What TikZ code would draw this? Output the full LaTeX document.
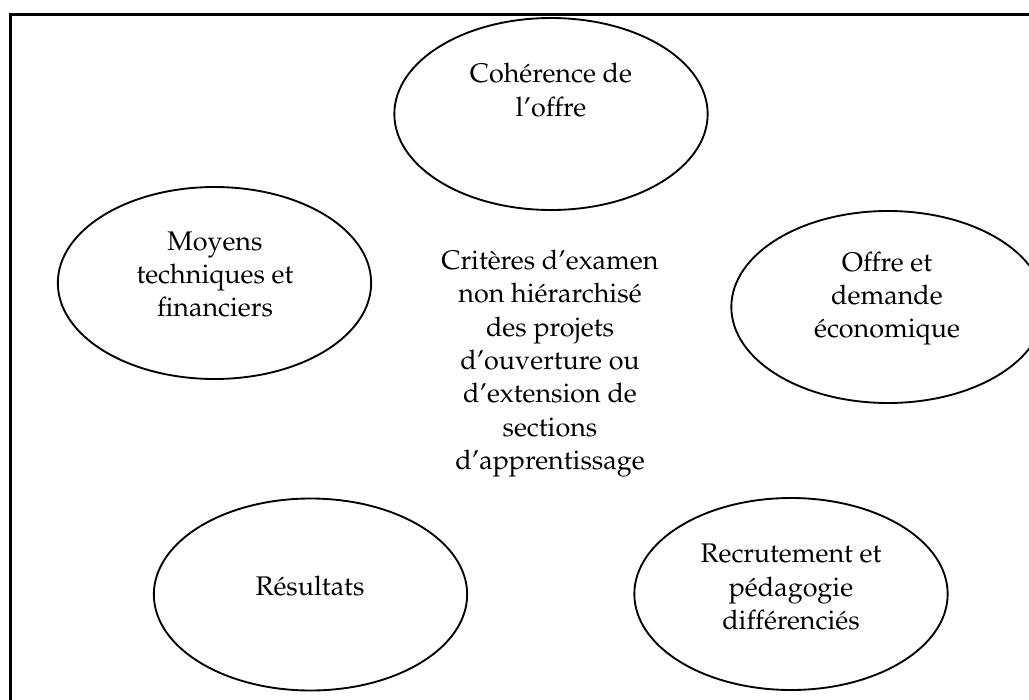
\documentclass[tikz,border=0pt]{standalone}
\usepackage[T1]{fontenc}
\usepackage{mathpazo}
\usetikzlibrary{shapes.geometric}

\begin{document}
\begin{tikzpicture}[x = 0.75pt, y = -0.75pt,
        oval/.style = {draw, ellipse, line width = 1.4pt, minimum width = 235pt, minimum height = 144pt, inner sep = 0pt},
        lbl/.style = {align = center, inner sep = 0pt, font = \fontsize{20.2}{25}\selectfont}]
        \useasboundingbox (0,0) rectangle (1029,700);
        \clip (0,0) rectangle (1029,700);

        % outer frame, runs off the page at right and bottom
        \draw[line width = 2.25pt] (10.5,14.5) rectangle (1045,715);

        \node[oval] (coh) at (551,114) {};
        \node[oval] (moy) at (214.5,283) {};
        \node[oval] (off) at (888,307) {};
        \node[oval] (res) at (310.5,594.5) {};
        \node[oval] (rec) at (791,594) {};

        \node[lbl] (cohtxt) at (551,90) {Cohérence de\\l'offre};
        \node[lbl] (moytxt) at (215,274.5) {Moyens\\techniques et\\financiers};
        \node[lbl] (offtxt) at (887,298.5) {Offre et\\demande\\économique};
        \node[lbl] (restxt) at (310,586.5) {Résultats};
        \node[lbl] (rectxt) at (791,587) {Recrutement et\\pédagogie\\différenciés};

        \node[lbl] (crit) at (550,363.5) {Critères d'examen\\non hiérarchisé\\des projets\\d'ouverture ou\\d'extension de\\sections\\d'apprentissage};
\end{tikzpicture}
\end{document}
